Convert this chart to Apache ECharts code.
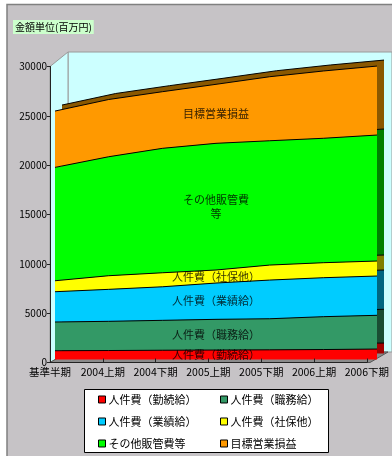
<!DOCTYPE html>
<html>
<head>
<meta charset="utf-8">
<script src="https://cdn.jsdelivr.net/npm/echarts@6/dist/echarts.min.js"></script>
<style>
  html, body { margin: 0; padding: 0; background: #ffffff; }
  #chart { width: 392px; height: 456px; }
</style>
</head>
<body>
<div id="chart"></div>
<script>
// Half-year periods
const categories = ['基準半期', '2004上期', '2004下期', '2005上期', '2005下期', '2006上期', '2006下期'];

// Amounts per cost item (百万円)
const kinzoku = [890, 910, 940, 960, 980, 1010, 1060];        // 人件費（勤続給）
const shokumu = [2910, 2960, 3030, 3110, 3150, 3330, 3420];   // 人件費（職務給）
const gyoseki = [3070, 3240, 3400, 3680, 3920, 3950, 3980];   // 人件費（業績給）
const shaho = [1110, 1380, 1420, 1320, 1520, 1520, 1520];     // 人件費（社保他）
const sonota = [11490, 12060, 12610, 12840, 12600, 12610, 12770]; // その他販管費等
const mokuhyo = [5710, 5800, 5740, 5980, 6490, 6820, 6990];   // 目標営業損益

const yTicks = { min: 0, max: 30000, interval: 5000 };

const items = [
  { name: '人件費（勤続給）', label: '人件費（勤続給）', data: kinzoku, color: '#FF0000', side: '#A00000' },
  { name: '人件費（職務給）', label: '人件費（職務給）', data: shokumu, color: '#339966', side: '#1A4D33' },
  { name: '人件費（業績給）', label: '人件費（業績給）', data: gyoseki, color: '#00CCFF', side: '#006680' },
  { name: '人件費（社保他）', label: '人件費（社保他）', data: shaho, color: '#FFFF00', side: '#808000' },
  { name: 'その他販管費等', label: 'その他販管費\n等', data: sonota, color: '#00FF00', side: '#008000' },
  { name: '目標営業損益', label: '目標営業損益', data: mokuhyo, color: '#FF9900', side: '#8A5800' }
];

const FONT = '"Noto Sans CJK JP", "Noto Sans", sans-serif';
const labelCat = 3;

// Front face grid, depth copy grid, wall grid and labelled-axis grid
const G_FRONT = { left: 55, top: 63.5, width: 322, height: 296 };
const G_BACK = { left: 62, top: 57.5, width: 322, height: 296 };
const G_WALL = { left: 68, top: 52, width: 340, height: 300 };
const G_AXIS = { left: 50, top: 66.5, width: 320, height: 296 };

const hiddenCat = (gi) => ({
  type: 'category', gridIndex: gi, data: categories, boundaryGap: false, show: false
});
const hiddenVal = (gi) => ({
  type: 'value', gridIndex: gi, min: yTicks.min, max: yTicks.max, interval: yTicks.interval, show: false, splitLine: { show: false }
});

const series = [];

// Depth copy (top and right side faces)
items.forEach((it) => {
  series.push({
    name: it.name + '_depth',
    type: 'line',
    xAxisIndex: 1, yAxisIndex: 1,
    stack: 'depth',
    data: it.data,
    symbol: 'none',
    z: 3,
    silent: true,
    lineStyle: { color: '#000', width: 1 },
    areaStyle: { color: it.side, opacity: 1 }
  });
});

// Front face
items.forEach((it) => {
  series.push({
    name: it.name,
    type: 'line',
    xAxisIndex: 2, yAxisIndex: 2,
    stack: 'front',
    data: it.data,
    symbol: 'none',
    z: 4,
    color: it.color,
    lineStyle: { color: '#000', width: 1 },
    areaStyle: { color: it.color, opacity: 1 }
  });
});

// Band labels at the middle of each band
let cum = 0;
const labelData = items.map((it) => {
  const v = it.data[labelCat];
  const mid = cum + v / 2;
  cum += v;
  return { value: [labelCat, mid], label: { formatter: it.label } };
});
series.push({
  name: 'band-labels',
  type: 'scatter',
  xAxisIndex: 2, yAxisIndex: 2,
  symbolSize: 0,
  z: 6,
  silent: true,
  data: labelData,
  label: {
    show: true, position: 'inside', color: '#000',
    fontFamily: FONT, fontSize: 11, lineHeight: 14
  }
});

// Anchor series for the wall grid and the labelled-axis grid
series.push({ type: 'line', xAxisIndex: 0, yAxisIndex: 0, data: [], silent: true });
series.push({ type: 'line', xAxisIndex: 3, yAxisIndex: 3, data: [], silent: true });

const legendCommon = {
  orient: 'vertical',
  top: 394,
  itemWidth: 7,
  itemHeight: 7,
  itemGap: 11,
  padding: 0,
  icon: 'rect',
  itemStyle: { borderColor: '#000', borderWidth: 1 },
  textStyle: { fontFamily: FONT, fontSize: 11, color: '#000', padding: [0, 0, 0, -2] },
  z: 8
};

const option = {
  animation: false,
  backgroundColor: '#ffffff',
  title: {
    text: '金額単位(百万円)',
    left: 13, top: 20,
    padding: [2, 2, 2, 2],
    backgroundColor: '#CCFFCC',
    textStyle: { fontFamily: FONT, fontSize: 10, fontWeight: 'normal', color: '#000' }
  },
  legend: [
    Object.assign({}, legendCommon, { left: 98, data: [items[0].name, items[2].name, items[4].name] }),
    Object.assign({}, legendCommon, { left: 220, data: [items[1].name, items[3].name, items[5].name] })
  ],
  graphic: [
    { type: 'rect', z: -10, shape: { x: 7, y: 4.5, width: 400, height: 460 },
      style: { fill: '#C6C3C6', stroke: '#808080', lineWidth: 1.5 } },
    // left wall
    { type: 'polygon', z: 1, shape: { points: [[50, 66.5], [68, 52], [68, 352], [50, 362.5]] },
      style: { fill: '#CCFFFF', stroke: '#9A9A9A', lineWidth: 1 } },
    // floor
    { type: 'polygon', z: 1, shape: { points: [[50, 362.5], [68, 352], [388, 352], [370, 362.5]] },
      style: { fill: '#8A8A8A', stroke: '#555', lineWidth: 1 } },
    // legend frame
    { type: 'rect', z: 7, shape: { x: 84.5, y: 389.5, width: 244, height: 63 },
      style: { fill: '#ffffff', stroke: '#000', lineWidth: 1 } }
  ],
  grid: [
    Object.assign({ show: true, backgroundColor: '#CCFFFF', borderColor: '#9A9A9A', borderWidth: 1, z: 0 }, G_WALL),
    Object.assign({}, G_BACK),
    Object.assign({}, G_FRONT),
    Object.assign({}, G_AXIS)
  ],
  xAxis: [
    hiddenCat(0), hiddenCat(1), hiddenCat(2),
    {
      type: 'category', gridIndex: 3, data: categories, boundaryGap: false, z: 5,
      axisLine: { show: true, lineStyle: { color: '#222', width: 1 } },
      axisTick: { show: true, inside: true, length: 4, lineStyle: { color: '#222' } },
      axisLabel: { margin: 4, fontFamily: FONT, fontSize: 10.5, color: '#000', interval: 0 }
    }
  ],
  yAxis: [
    hiddenVal(0), hiddenVal(1), hiddenVal(2),
    {
      type: 'value', gridIndex: 3, min: yTicks.min, max: yTicks.max, interval: yTicks.interval, z: 5,
      splitLine: { show: false },
      axisLine: { show: true, lineStyle: { color: '#222', width: 1 } },
      axisTick: { show: true, length: 3, lineStyle: { color: '#222' } },
      axisLabel: { margin: 3, fontFamily: FONT, fontSize: 10, color: '#000', formatter: (v) => String(v) }
    }
  ],
  series: series
};

const chart = echarts.init(document.getElementById('chart'), null, { renderer: 'canvas' });
chart.setOption(option);
</script>
</body>
</html>
